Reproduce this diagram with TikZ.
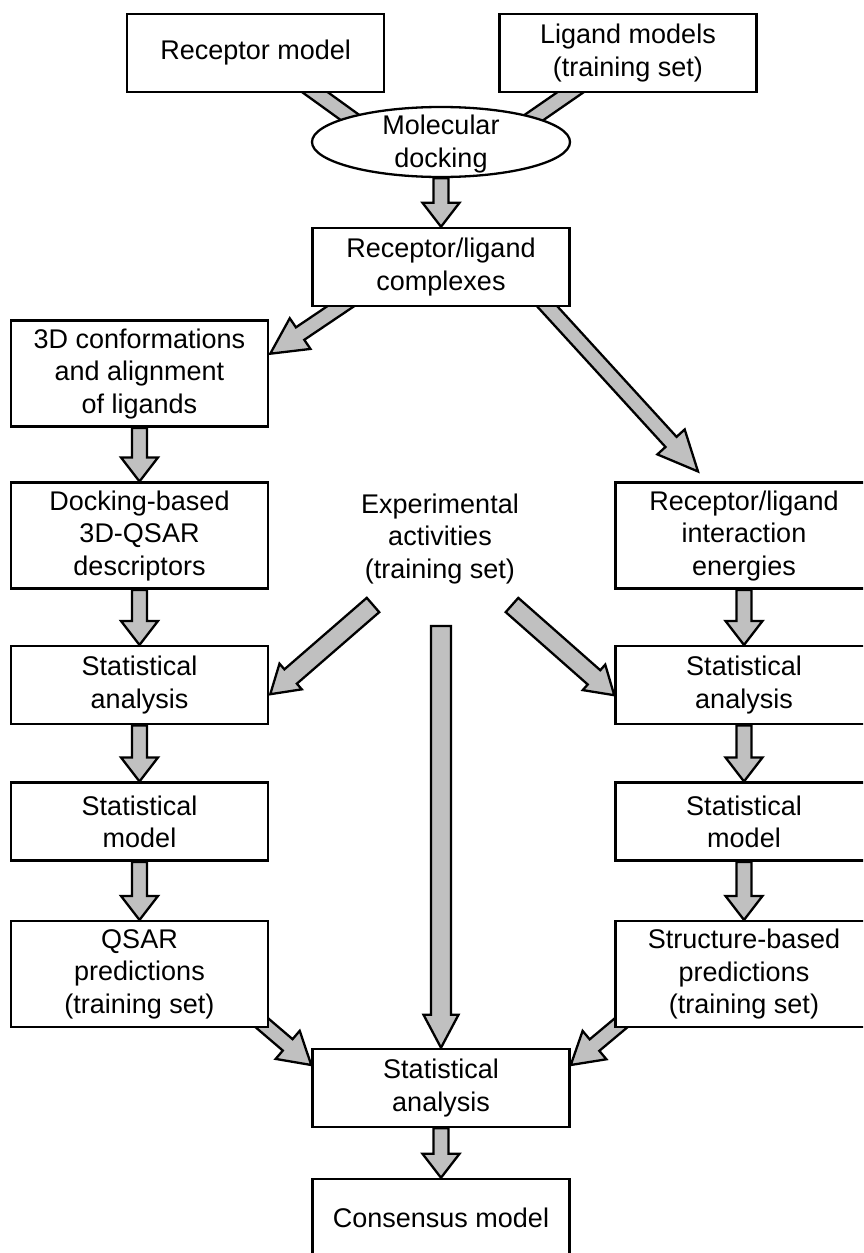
\documentclass[tikz,border=0pt]{standalone}
\usepackage{fontspec}
\setmainfont{Liberation Sans}
\usetikzlibrary{shapes.geometric,positioning,calc}
\pgfdeclarelayer{bg}
\pgfsetlayers{bg,main}
\definecolor{arrowgray}{RGB}{192,192,192}

\tikzset{
  fat shaft/.store in=\fatshaft, fat shaft=7.5pt,
  fat head/.store in=\fathead, fat head=18.5pt,
  fat len/.store in=\fatlen, fat len=24pt,
  fatline/.style={draw=black,fill=arrowgray,line width=2.3pt,line join=miter},
}

\newcommand\fatarrow[3][]{%
  \begin{pgfonlayer}{bg}
  \begin{scope}[#1]
  \draw[fatline] let \p1=(#2), \p2=(#3), \n1={atan2(\y2-\y1,\x2-\x1)} in
    ($(\p1)+(\n1+90:\fatshaft)$)
    -- ($(\p2)+(\n1+180:\fatlen)+(\n1+90:\fatshaft)$)
    -- ($(\p2)+(\n1+180:\fatlen)+(\n1+90:\fathead)$)
    -- (\p2)
    -- ($(\p2)+(\n1+180:\fatlen)+(\n1-90:\fathead)$)
    -- ($(\p2)+(\n1+180:\fatlen)+(\n1-90:\fatshaft)$)
    -- ($(\p1)+(\n1-90:\fatshaft)$) -- cycle;
  \end{scope}
  \end{pgfonlayer}}

\begin{document}
\begin{tikzpicture}[x=1pt,y=-1pt,on grid,
    every node/.style={font=\fontsize{27}{32.5}\selectfont},
    box/.style={draw,line width=2.5pt,fill=white,minimum width=257pt,
      minimum height=78pt,align=center,inner sep=2pt},
    tall/.style={box,minimum height=106pt},
    dockshape/.style={ellipse,draw,line width=2.3pt,fill=white,
      minimum width=258pt,minimum height=70pt,inner sep=0pt}]
   \useasboundingbox (0,0) rectangle (863,1253);
   \clip (0,0) rectangle (863,1253);

   \node[box] (recep) at (255.6,53) {Receptor model};
   \node[box] (lig) [right=372.4pt of recep] {Ligand models\\(training set)};
   \node[dockshape] (dock) at (441,142) {};
   \node[align=center] (docktext) at ($(dock)+(0,2)$) {Molecular\\docking};
   \node[box] (cplx) [below=125pt of dock] {Receptor/ligand\\complexes};

   \node[tall] (conf) at (139.5,373.7) {3D conformations\\and alignment\\of ligands};
   \node[tall] (desc) [below=162pt of conf] {Docking-based\\3D-QSAR\\descriptors};
   \node[box] (statL) [below=149.5pt of desc] {Statistical\\analysis};
   \node[box] (modelL) [below=136.5pt of statL] {Statistical\\model};
   \node[tall] (qsar) [below=152.5pt of modelL] {QSAR\\predictions\\(training set)};

   \node[tall] (inter) [right=604.5pt of desc] {Receptor/ligand\\interaction\\energies};
   \node[box] (statR) [right=604.5pt of statL] {Statistical\\analysis};
   \node[box] (modelR) [right=604.5pt of modelL] {Statistical\\model};
   \node[tall] (sbp) [right=604.5pt of qsar] {Structure-based\\predictions\\(training set)};

   \node[align=center] (expt) at (440,539) {Experimental\\activities\\(training set)};
   \coordinate (exptL) at ($(expt.center)+(-67,66)$);
   \coordinate (exptR) at ($(expt.center)+(72,66)$);
   \coordinate (exptM) at ($(expt.center)+(1,87)$);

   \node[box] (final) at (441,1088) {Statistical\\analysis};
   \node[box] (cons) [below=130pt of final] {Consensus model};

   \fatarrow{$(recep.south)+(48.4,-9)$}{$(dock.center)+(-46,8)$}
   \fatarrow{$(lig.south)+(-46,-9)$}{$(dock.center)+(46,8)$}
   \fatarrow{dock.south}{cplx.north}
   \fatarrow[fat len=36pt]{$(cplx.south)+(-85.5,-11)$}{$(conf.east)+(1,-20)$}
   \fatarrow[fat len=40pt]{$(cplx.south)+(97,-11)$}{$(inter.north)+(-46,-10)$}
   \fatarrow{conf.south}{desc.north}
   \fatarrow{desc.south}{statL.north}
   \fatarrow{statL.south}{modelL.north}
   \fatarrow{modelL.south}{qsar.north}
   \fatarrow{inter.south}{statR.north}
   \fatarrow{statR.south}{modelR.north}
   \fatarrow{modelR.south}{sbp.north}
   \fatarrow[fat shaft=9.5pt,fat head=17pt,fat len=27pt]{exptL}{$(statL.east)+(1,9)$}
   \fatarrow[fat shaft=9.5pt,fat head=17pt,fat len=27pt]{exptR}{$(statR.west)+(0,10)$}
   \fatarrow[fat shaft=10pt,fat head=17.5pt,fat len=33pt]{exptM}{final.north}
   \fatarrow[fat len=31pt]{$(qsar.east)+(-32,27.5)$}{$(final.west)+(0,-23)$}
   \fatarrow[fat len=31pt]{$(sbp.west)+(32,27.5)$}{$(final.east)+(0,-23)$}
   \fatarrow{final.south}{cons.north}
\end{tikzpicture}
\end{document}
